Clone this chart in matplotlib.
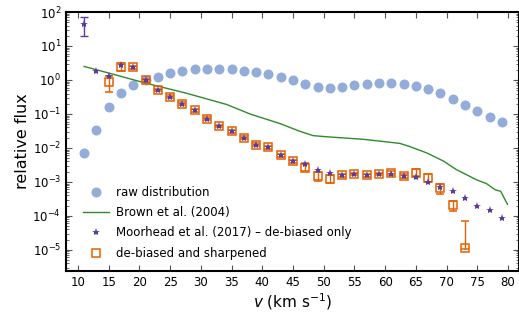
import matplotlib
matplotlib.use('Agg')
import matplotlib.pyplot as plt
import matplotlib.ticker as mticker
from matplotlib.lines import Line2D
import numpy as np

plt.rcParams['font.family'] = ['DejaVu Sans']
plt.rcParams['mathtext.fontset'] = 'dejavusans'

# data #########################################################################
raw_v = list(range(11, 80, 2))
raw_flux = [0.007, 0.033, 0.16, 0.42, 0.72, 1.0, 1.26, 1.58, 1.86, 2.04,
            2.1, 2.1, 2.04, 1.9, 1.7, 1.52, 1.26, 1.0, 0.77, 0.61,
            0.59, 0.64, 0.71, 0.74, 0.79, 0.79, 0.76, 0.68, 0.56, 0.42,
            0.28, 0.18, 0.12, 0.081, 0.058]

brown_v = [11, 15, 21, 27.6, 34.2, 38, 42.9, 46.1, 48.3, 51, 56.4, 60.8,
           62.4, 64, 66.8, 69.5, 71.6, 74.9, 76.5, 77.9, 78.8, 79.9]
brown_flux = [2.5, 1.6, 0.81, 0.41, 0.19, 0.10, 0.052, 0.031, 0.023, 0.021,
              0.018, 0.0147, 0.0136, 0.011, 0.0071, 0.0041, 0.0023, 0.00115,
              0.00089, 0.00059, 0.00053, 0.00022]

moorhead_v = list(range(11, 80, 2))
moorhead_flux = [45, 1.86, 1.35, 2.7, 2.35, 0.99, 0.51, 0.32, 0.20, 0.13,
                 0.073, 0.044, 0.031, 0.020, 0.0125, 0.0104, 0.0062, 0.0040,
                 0.0034, 0.0023, 0.00186, 0.00163, 0.00174, 0.00158, 0.0017,
                 0.00174, 0.00145, 0.00138, 0.00102, 0.00069, 0.00054,
                 0.00033, 0.000195, 0.000151, 8.5e-5]
# only the first point has a visible error bar
moorhead_err_v = [11]
moorhead_err_flux = [45]
moorhead_err_lo = [19.5]
moorhead_err_hi = [72]

sharp_v = list(range(15, 74, 2))
sharp_flux = [0.87, 2.45, 2.35, 0.99, 0.51, 0.32, 0.20, 0.13, 0.073, 0.044,
              0.031, 0.020, 0.0125, 0.0104, 0.0062, 0.0040, 0.0026, 0.00145,
              0.00123, 0.00155, 0.0017, 0.00158, 0.0017, 0.0018, 0.0015,
              0.00186, 0.00132, 0.00065, 0.000204, 1.15e-5]
sharp_lo = [0.44, 1.9, 2.1, 0.9, 0.46, 0.29, 0.18, 0.118, 0.066, 0.040,
            0.028, 0.018, 0.0113, 0.0094, 0.0056, 0.0036, 0.0021, 0.0011,
            0.00095, 0.0014, 0.00155, 0.00143, 0.00155, 0.00155, 0.0013,
            0.0015, 0.00103, 0.00043, 0.000138, 1.1e-5]
sharp_hi = [1.35, 3.2, 2.6, 1.08, 0.56, 0.35, 0.22, 0.143, 0.080, 0.048,
            0.034, 0.022, 0.0137, 0.0114, 0.0068, 0.0044, 0.0035, 0.0019,
            0.0016, 0.0017, 0.00185, 0.00173, 0.00185, 0.0021, 0.0017,
            0.0024, 0.0017, 0.00089, 0.00028, 7.2e-5]

x_ticks = list(range(10, 81, 5))
y_ticks = [1e-5, 1e-4, 1e-3, 1e-2, 1e-1, 1e0, 1e1, 1e2]

c_raw = '#94acd9'
c_brown = '#2f8a2a'
c_moor = '#5e3c99'
c_sharp = '#e66101'

# Plot #########################################################################
fig = plt.figure(figsize=(5.19, 3.20), dpi=100)
ax = fig.add_axes([66 / 519, 49 / 320, 452.5 / 519, 259 / 320])

ax.plot(raw_v, raw_flux, 'o', color=c_raw, ms=7.2, mew=0, zorder=2)
ax.plot(brown_v, brown_flux, '-', color=c_brown, lw=1.0, zorder=3)

sf = np.array(sharp_flux)
yerr = [sf - np.array(sharp_lo), np.array(sharp_hi) - sf]
ax.errorbar(sharp_v, sharp_flux, yerr=yerr, fmt='s', mfc='none', mec=c_sharp,
            mew=1.1, ms=6.3, ecolor=c_sharp, elinewidth=1.0, capsize=3,
            capthick=1.0, zorder=4)

mf = np.array(moorhead_err_flux)
merr = [mf - np.array(moorhead_err_lo), np.array(moorhead_err_hi) - mf]
ax.errorbar(moorhead_err_v, moorhead_err_flux, yerr=merr, fmt='none',
            ecolor=c_moor, elinewidth=1.0, capsize=3, capthick=1.0, zorder=5)
ax.plot(moorhead_v, moorhead_flux, '*', color=c_moor, ms=6, mew=0, zorder=6)

ax.set_yscale('log')
ax.set_xlim(8.05, 81.7)
ax.set_ylim(10 ** -5.62, 100)
ax.set_xticks(x_ticks)
ax.yaxis.set_major_locator(mticker.FixedLocator(y_ticks))
ax.yaxis.set_major_formatter(mticker.LogFormatterSciNotation())
minor = [m * t for t in [1e-6] + y_ticks[:-1] for m in range(2, 10)]
ax.yaxis.set_minor_locator(mticker.FixedLocator(
    [v for v in minor if 10 ** -5.62 <= v <= 100]))
ax.yaxis.set_minor_formatter(mticker.NullFormatter())

ax.tick_params(which='both', direction='in', top=True, right=True,
               labelsize=8.5, color='#555555')
ax.tick_params(which='major', length=4, width=0.8)
ax.tick_params(which='minor', length=2, width=0.6)
for s in ax.spines.values():
    s.set_linewidth(1.5)

ax.set_xlabel(r'$v$ (km s$^{-1}$)', fontsize=11, labelpad=1.5)
ax.set_ylabel('relative flux', fontsize=11.5, labelpad=2)

handles = [
    Line2D([], [], ls='none', marker='o', color=c_raw, ms=7.2, mew=0),
    Line2D([], [], color=c_brown, lw=1.0),
    Line2D([], [], ls='none', marker='*', color=c_moor, ms=6, mew=0),
    Line2D([], [], ls='none', marker='s', mfc='none', mec=c_sharp, mew=1.1, ms=6.3),
]
labels = ['raw distribution', 'Brown et al. (2004)',
          'Moorhead et al. (2017) – de-biased only', 'de-biased and sharpened']
ax.legend(handles, labels, loc='lower left', bbox_to_anchor=(0.028, 0.025),
          borderaxespad=0, frameon=False, fontsize=8.5, handlelength=2.2,
          labelspacing=0.62, handletextpad=0.6)

plt.savefig('out.png', dpi=100)
